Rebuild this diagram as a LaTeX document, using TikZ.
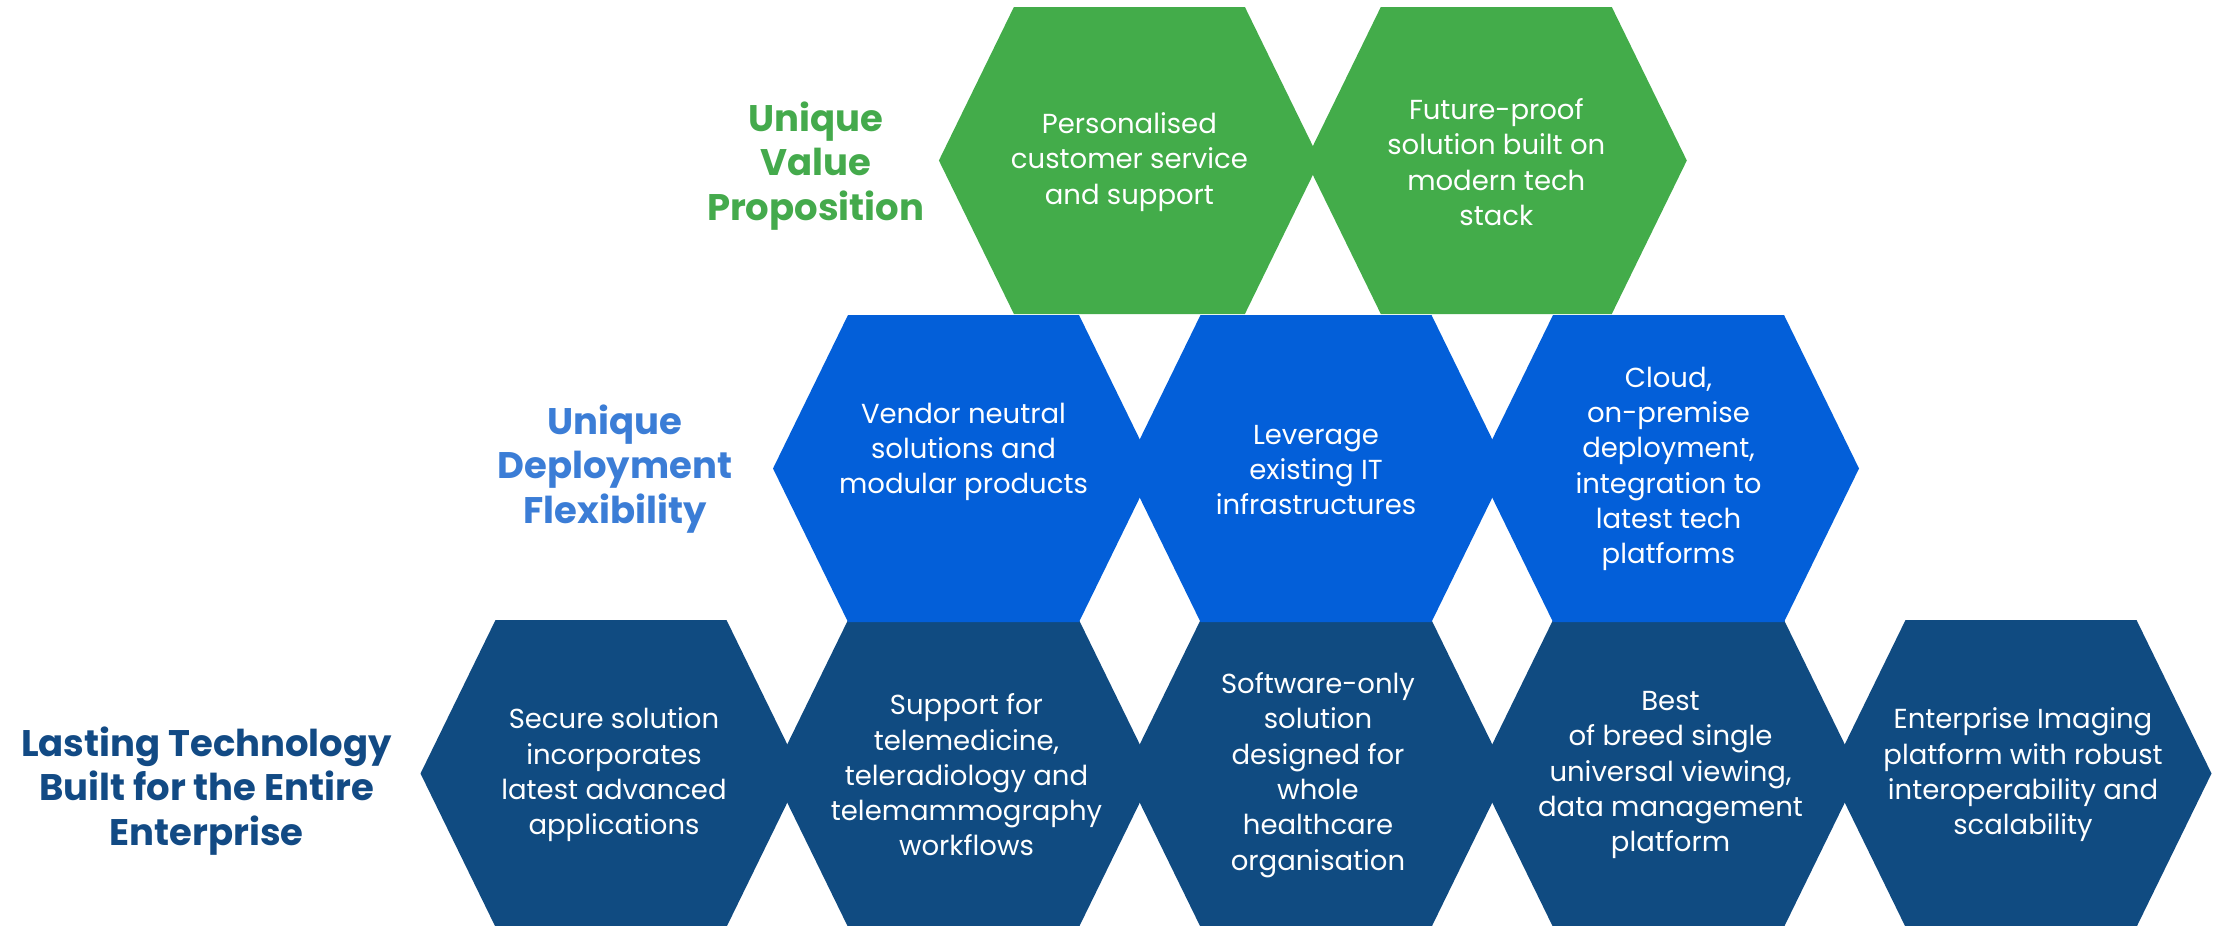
\documentclass[tikz,border=0pt]{standalone}
\usepackage{fontspec}
\setmainfont{Poppins}
\definecolor{hgreen}{HTML}{43AC4A}
\definecolor{hblue}{HTML}{035FD9}
\definecolor{hdark}{HTML}{104B81}
\definecolor{lgreen}{HTML}{44AA4C}
\definecolor{lblue}{HTML}{3B7DD6}
\definecolor{ldark}{HTML}{124A84}
\tikzset{
  hextext/.style={align=center, text=white, inner sep=0pt, font=\fontsize{27.5}{35.3}\selectfont},
  rowlabel/.style={align=center, inner sep=0pt, font=\bfseries\fontsize{37}{44.6}\selectfont},
}
\newcommand{\hexshape}[3]{%
  \fill[#3, shift={(#1,#2)}] (-190.5,0) -- (-115.5,-153.5) -- (115.5,-153.5) -- (190.5,0) -- (115.5,153.5) -- (-115.5,153.5) -- cycle;}
\begin{document}
\begin{tikzpicture}[x=1pt,y=-1pt]
\useasboundingbox (0,0) rectangle (2222,926);
% bottom row
\hexshape{611}{773.5}{hdark}
\hexshape{963.5}{773.5}{hdark}
\hexshape{1316}{773.5}{hdark}
\hexshape{1668.5}{773.5}{hdark}
\hexshape{2021}{773.5}{hdark}
% middle row
\hexshape{963.5}{468.5}{hblue}
\hexshape{1316}{468.5}{hblue}
\hexshape{1668.5}{468.5}{hblue}
% top row
\hexshape{1129.4}{160.5}{hgreen}
\hexshape{1496.3}{160.5}{hgreen}
% texts
\node[hextext] (g1) at (1129.4,162) {Personalised\\customer service\\and support};
\node[hextext] (g2) at (1496.3,162) {Future-proof\\solution built on\\modern tech\\stack};
\node[hextext] (b1) at (963.5,452) {Vendor neutral\\solutions and\\modular products};
\node[hextext] (b2) at (1316,470) {Leverage\\existing IT\\infrastructures};
\node[hextext] (b3) at (1668.5,469) {Cloud,\\on-premise\\deployment,\\integration to\\latest tech\\platforms};
\node[hextext] (d1) at (614,775) {Secure solution\\incorporates\\latest advanced\\applications};
\node[hextext] (d2) at (966.5,775) {Support for\\telemedicine,\\teleradiology and\\telemammography\\workflows};
\node[hextext] (d3) at (1318,775) {Software-only\\solution\\designed for\\whole\\healthcare\\organisation};
\node[hextext] (d4) at (1670.5,775) {Best\\of breed single\\universal viewing,\\data management\\platform};
\node[hextext] (d5) at (2023,775) {Enterprise Imaging\\platform with robust\\interoperability and\\scalability};
% labels
\node[rowlabel, text=lgreen] (lg) at (815.6,166) {Unique\\Value\\Proposition};
\node[rowlabel, text=lblue] (lb) at (615,469) {Unique\\Deployment\\Flexibility};
\node[rowlabel, text=ldark] (ld) at (206.5,791) {Lasting Technology\\Built for the Entire\\Enterprise};
\end{tikzpicture}
\end{document}
